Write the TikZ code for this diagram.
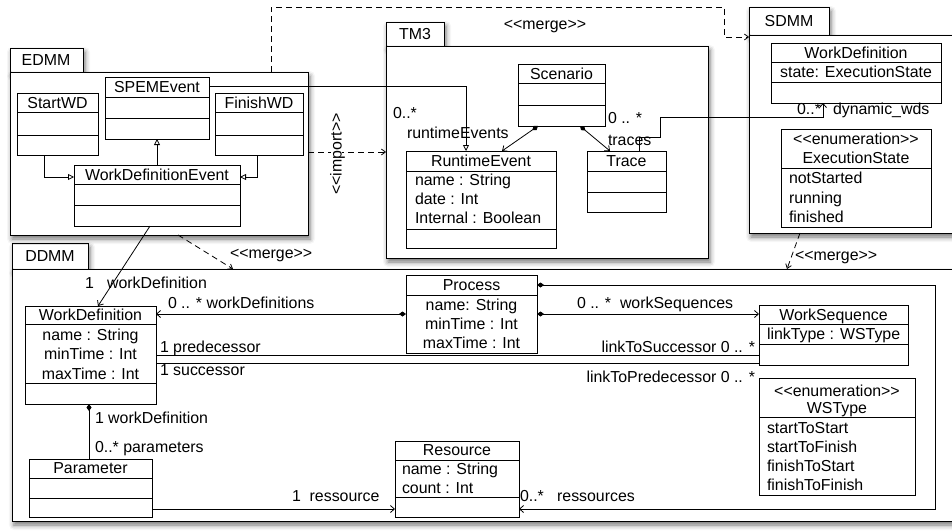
\documentclass[tikz,border=0pt]{standalone}
\usepackage{fontspec}
\setmainfont{Liberation Sans}
\usetikzlibrary{arrows.meta,shadows.blur}

% guillemet-free stereotype brackets (the kern keeps << and >> apart)
\newcommand\stereo[1]{<\kern0pt<#1>\kern0pt>}
% class box from its corners, and a compartment line at height y
\newcommand\ucls[5]{\node[cls, minimum width={#4-#2}, minimum height={#5-#3}] (#1) at (#2,#3) {};}
\newcommand\usep[2]{\draw (#1.west |- 0,#2) -- (#1.east |- 0,#2);}

\begin{document}
\begin{tikzpicture}[x=1pt,y=-1pt,
  font=\fontsize{15.9}{19}\selectfont,
  line width=0.8pt,
  pkg/.style={draw, fill=white, line width=0.9pt, inner sep=0, outer sep=0, anchor=north west,
    blur shadow={shadow xshift=2pt, shadow yshift=-4pt, shadow blur radius=5pt, shadow opacity=55}},
  cls/.style={draw, fill=white, inner sep=0, outer sep=0, anchor=north west},
  txt/.style={inner sep=0, outer sep=0, text height=11pt, text depth=0pt},
  lbl/.style={txt, anchor=west},
  rlbl/.style={txt, anchor=east},
  gen/.style={-{Triangle[open,length=6pt,width=6pt]}},
  nav/.style={-{Straight Barb[length=4pt,width=7pt]}},
  comp/.style={{Diamond[length=7pt,width=5pt]}-{Straight Barb[length=4pt,width=7pt]}},
  dep/.style={dash pattern=on 6pt off 4pt, -{Straight Barb[length=4pt,width=6pt]}},
]
\useasboundingbox (0,0) rectangle (952,530);

% ---------- packages ----------
\node[pkg, minimum width=76, minimum height=26] (ddmmtab) at (12,243) {};
\node[pkg, minimum width=946, minimum height=252] (ddmm) at (12,269) {};
\node[pkg, minimum width=73, minimum height=24] (edmmtab) at (10,48) {};
\node[pkg, minimum width=298, minimum height=163] (edmm) at (10,72) {};
\node[pkg, minimum width=58, minimum height=24] (tmtab) at (386,22) {};
\node[pkg, minimum width=322, minimum height=212] (tm) at (386,46) {};
\node[pkg, minimum width=80, minimum height=28] (sdmmtab) at (749,7) {};
\node[pkg, minimum width=210, minimum height=198] (sdmm) at (749,35) {};

\node[txt] (ddmmname) at (50,256) {DDMM};
\node[txt] (edmmname) at (46,60) {EDMM};
\node[txt] (tmname) at (415,34) {TM3};
\node[txt] (sdmmname) at (789,21) {SDMM};

% ---------- EDMM ----------
\ucls{startwd}{17}{93}{98}{155} \usep{startwd}{112} \usep{startwd}{135}
\node[txt] (startwdt) at (57.5,102.5) {StartWD};
\ucls{spem}{105}{77}{209}{139} \usep{spem}{97} \usep{spem}{118}
\node[txt] (spemt) at (157,87) {SPEMEvent};
\ucls{finishwd}{215}{93}{303}{155} \usep{finishwd}{112} \usep{finishwd}{135}
\node[txt] (finishwdt) at (259,102.5) {FinishWD};
\ucls{wde}{74}{165}{240}{226} \usep{wde}{184} \usep{wde}{205}
\node[txt] (wdet) at (157,174.5) {WorkDefinitionEvent};

% ---------- TM3 ----------
\ucls{scen}{518}{64}{605}{126} \usep{scen}{83} \usep{scen}{105}
\node[txt] (scent) at (561.5,73.5) {Scenario};
\ucls{rte}{406}{151}{556}{248} \usep{rte}{171} \usep{rte}{229}
\node[txt] (rtet) at (481,161) {RuntimeEvent};
\node[lbl] (rtea1) at (415,180) {name : String};
\node[lbl] (rtea2) at (415,199) {date : Int};
\node[lbl] (rtea3) at (415,218) {Internal : Boolean};
\ucls{trace}{587}{151}{666}{212} \usep{trace}{171} \usep{trace}{192}
\node[txt] (tracet) at (626.5,161) {Trace};

% ---------- SDMM ----------
\ucls{sdwd}{771}{43}{941}{103} \usep{sdwd}{62} \usep{sdwd}{82}
\node[txt] (sdwdt) at (856,52.5) {WorkDefinition};
\node[txt] (sdwda) at (856,72) {state: ExecutionState};
\ucls{exst}{781}{129}{931}{227} \usep{exst}{168}
\node[txt] (exsts) at (856,139) {\stereo{enumeration}};
\node[txt] (exstt) at (856,158) {ExecutionState};
\node[lbl] (exst1) at (789,178) {notStarted};
\node[lbl] (exst2) at (789,198) {running};
\node[lbl] (exst3) at (789,217) {finished};

% ---------- DDMM ----------
\ucls{wd}{25}{306}{156}{404} \usep{wd}{324} \usep{wd}{383}
\node[txt] (wdt) at (90.5,315) {WorkDefinition};
\node[txt] (wda1) at (90.5,335) {name : String};
\node[txt] (wda2) at (90.5,354) {minTime : Int};
\node[txt] (wda3) at (90.5,374) {maxTime : Int};
\ucls{proc}{406}{275}{537}{353} \usep{proc}{295}
\node[txt] (proct) at (471.5,285) {Process};
\node[txt] (proca1) at (471.5,305) {name: String};
\node[txt] (proca2) at (471.5,324) {minTime : Int};
\node[txt] (proca3) at (471.5,343) {maxTime : Int};
\ucls{ws}{759}{305}{908}{365} \usep{ws}{324} \usep{ws}{344}
\node[txt] (wst) at (833.5,314.5) {WorkSequence};
\node[lbl] (wsa) at (767,334) {linkType : WSType};
\ucls{wst}{759}{378}{915}{495} \usep{wst}{417}
\node[txt] (wsts) at (837,391) {\stereo{enumeration}};
\node[txt] (wstt) at (837,408) {WSType};
\node[lbl] (wst1) at (767,428) {startToStart};
\node[lbl] (wst2) at (767,447) {startToFinish};
\node[lbl] (wst3) at (767,466) {finishToStart};
\node[lbl] (wst4) at (767,485) {finishToFinish};
\ucls{param}{29}{459}{152}{517} \usep{param}{478} \usep{param}{498}
\node[txt] (paramt) at (90.5,468) {Parameter};
\ucls{res}{395}{441}{519}{517} \usep{res}{460} \usep{res}{497}
\node[txt] (rest) at (457,450) {Resource};
\node[lbl] (resa1) at (402,469) {name : String};
\node[lbl] (resa2) at (402,488) {count : Int};

% ---------- connectors ----------
\draw[gen] (startwd.south -| 44,0) |- (wde.west |- 0,177);
\draw[gen] (finishwd.south -| 257,0) |- (wde.east |- 0,177);
\draw[gen] (wde.north -| 157,0) -- (spem.south -| 157,0);
\draw[gen] (spem.east |- 0,86) -| (rte.north -| 466,0);
\draw[comp] (scen.south -| 538,0) -- (rte.north -| 502,0);
\draw[comp] (scen.south -| 580,0) -- (trace.north -| 610,0);
\draw[nav] (trace.north -| 639,0) |- (660,137) |- (823,117) -- (sdwd.south -| 823,0);

\draw[dep] (edmm.north -| 271,0) |- (724,7) |- (sdmm.west |- 0,37);
\draw[dep] (edmm.east |- 0,152) -- (tm.west |- 0,152);
\draw[dep] (edmm.south -| 178,0) -- (ddmm.north -| 233,0);
\draw[dep] (sdmm.south -| 800,0) -- (ddmm.north -| 787,0);

\draw[nav] (wde.south -| 150,0) -- (wd.north -| 98,0);
\draw[comp] (proc.west |- 0,314) -- (wd.east |- 0,314);
\draw[comp] (proc.east |- 0,314) -- (ws.west |- 0,314);
\draw[comp] (proc.east |- 0,285) -| (935,509) -- (res.east |- 0,509);
\draw[nav] (param.east |- 0,509) -- (res.west |- 0,509);
\draw[{Diamond[length=7pt,width=5pt]}-] (wd.south -| 89,0) -- (param.north -| 89,0);
\draw (wd.east |- 0,355) -- (ws.west |- 0,355);
\draw (wd.east |- 0,363) -- (ws.west |- 0,363);

% ---------- labels ----------
\node[txt] (mergetop) at (545,24) {\stereo{merge}};
\node[txt, rotate=90, fill=white] (importlbl) at (336,154) {\stereo{import}};
\node[lbl] (rtem) at (393,113) {0..*};
\node[lbl] (rterole) at (407,133) {runtimeEvents};
\node[lbl] (trm) at (608,118) {0 .. *};
\node[lbl] (trrole) at (608,140) {traces};
\node[rlbl] (dynm) at (821,109) {0..*};
\node[lbl] (dynrole) at (833,109) {dynamic\_wds};
\node[lbl] (mergesd) at (795,255) {\stereo{merge}};
\node[lbl] (mergeed) at (230,253) {\stereo{merge}};
\node[lbl] (wderole) at (85,283) {1\ \ \ workDefinition};
\node[lbl] (wdsrole) at (168,303) {0 .. * workDefinitions};
\node[lbl] (wsrole) at (577,303) {0 .. *\ \ workSequences};
\node[lbl] (predrole) at (160,347) {1 predecessor};
\node[lbl] (succrole) at (160,370) {1 successor};
\node[rlbl] (lsucc) at (755,347) {linkToSuccessor 0 .. *};
\node[rlbl] (lpred) at (755,377) {linkToPredecessor 0 .. *};
\node[lbl] (pwdrole) at (95,418) {1 workDefinition};
\node[lbl] (prole) at (95,447) {0..* parameters};
\node[lbl] (resrole) at (292,496) {1\ \ ressource};
\node[lbl] (ressrole) at (520,496) {0..*\ \ \ ressources};

\end{tikzpicture}
\end{document}
